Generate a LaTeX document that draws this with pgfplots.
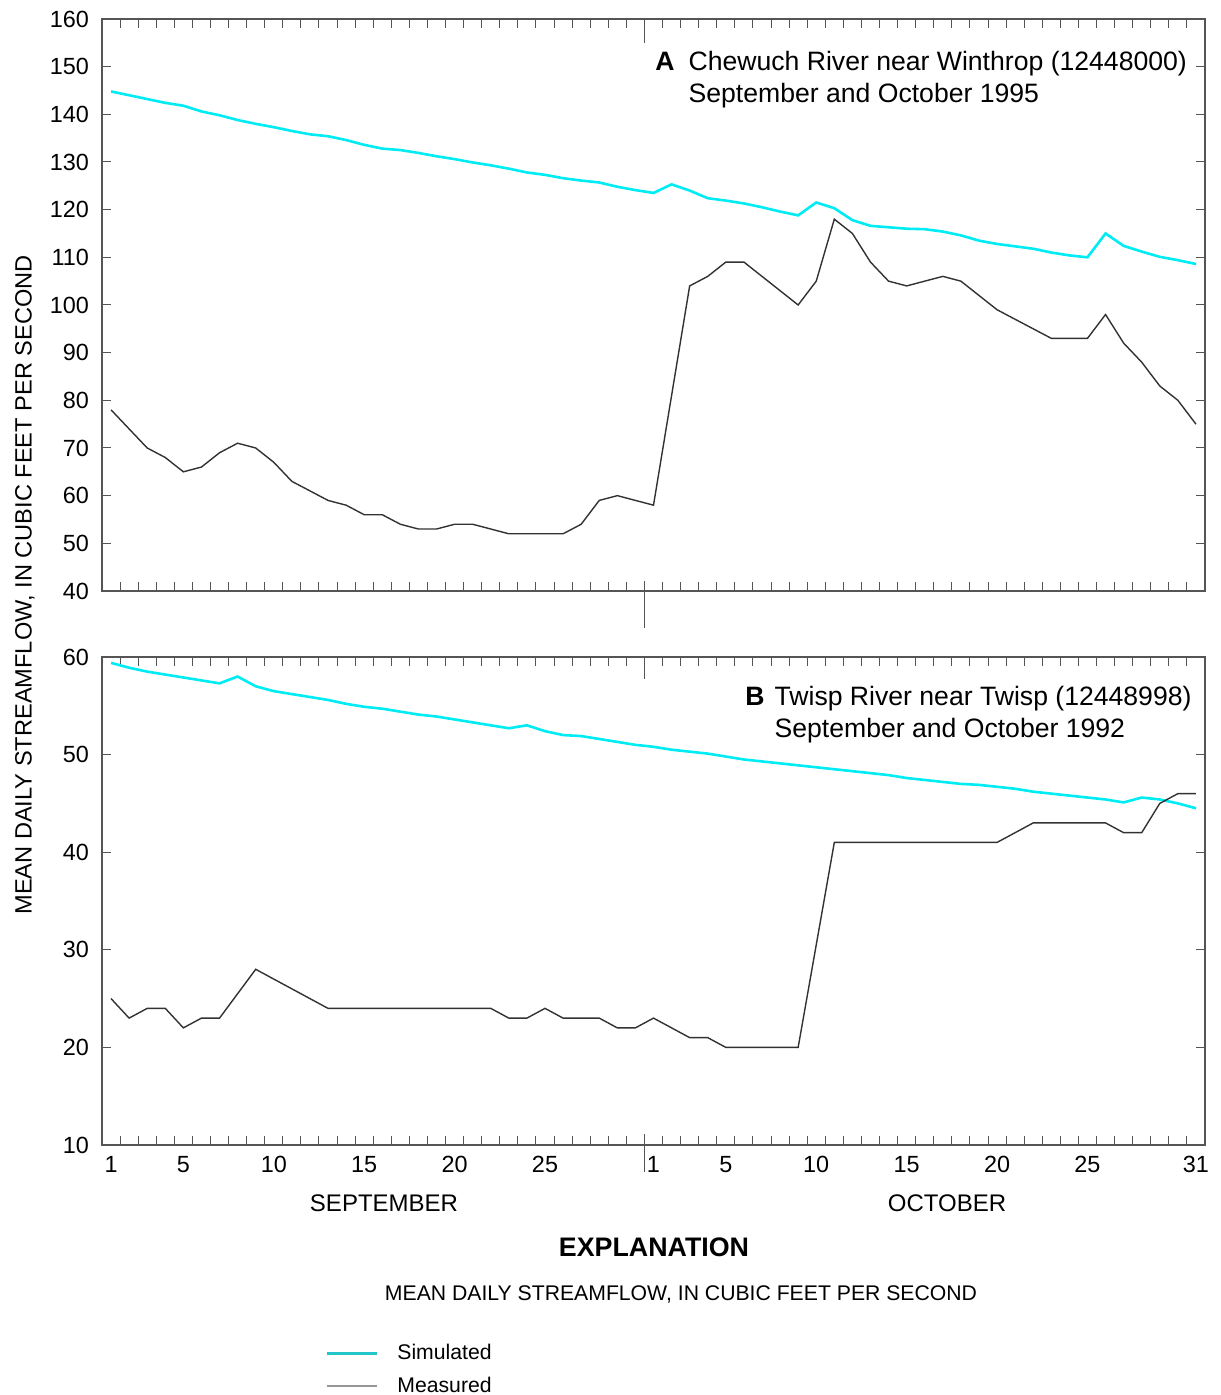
\documentclass[border=0pt]{standalone}
\usepackage{fontspec}
\setmainfont{Liberation Sans}
\usepackage{pgfplots}
\usepackage{pgfplotstable}
\pgfplotsset{compat=1.18}
\definecolor{simc}{RGB}{0,236,245}
\definecolor{meac}{RGB}{50,50,50}
\definecolor{axc}{RGB}{85,85,85}
\definecolor{legsim}{RGB}{34,197,200}
\definecolor{legmea}{RGB}{150,150,150}
\newcommand{\fs}[1]{\fontsize{#1}{#1}\selectfont}

\pgfplotstableread{
day simA meaA
1 144.8 78
2 144.0 74
3 143.2 70
4 142.4 68
5 141.8 65
6 140.6 66
7 139.8 69
8 138.8 71
9 138.0 70
10 137.3 67
11 136.5 63
12 135.8 61
13 135.4 59
14 134.6 58
15 133.6 56
16 132.8 56
17 132.5 54
18 131.9 53
19 131.2 53
20 130.6 54
21 129.9 54
22 129.3 53
23 128.6 52
24 127.8 52
25 127.3 52
26 126.6 52
27 126.1 54
28 125.7 59
29 124.8 60
30 124.1 59
31 123.5 58
32 125.3 81
33 124.0 104
34 122.4 106
35 121.9 109
36 121.3 109
37 120.5 106
38 119.6 103
39 118.8 100
40 121.5 105
41 120.3 118
42 117.8 115
43 116.6 109
44 116.3 105
45 116.0 104
46 115.9 105
47 115.4 106
48 114.6 105
49 113.5 102
50 112.8 99
51 112.3 97
52 111.8 95
53 111.0 93
54 110.4 93
55 110.0 93
56 115.0 98
57 112.4 92
58 111.2 88
59 110.1 83
60 109.4 80
61 108.6 75
}\tableA

\pgfplotstableread{
day simB meaB
1 59.4 25
2 58.9 23
3 58.5 24
4 58.2 24
5 57.9 22
6 57.6 23
7 57.3 23
8 58.0 25.5
9 57.0 28
10 56.5 27
11 56.2 26
12 55.9 25
13 55.6 24
14 55.2 24
15 54.9 24
16 54.7 24
17 54.4 24
18 54.1 24
19 53.9 24
20 53.6 24
21 53.3 24
22 53.0 24
23 52.7 23
24 53.0 23
25 52.4 24
26 52.0 23
27 51.9 23
28 51.6 23
29 51.3 22
30 51.0 22
31 50.8 23
32 50.5 22
33 50.3 21
34 50.1 21
35 49.8 20
36 49.5 20
37 49.3 20
38 49.1 20
39 48.9 20
40 48.7 30.5
41 48.5 41
42 48.3 41
43 48.1 41
44 47.9 41
45 47.6 41
46 47.4 41
47 47.2 41
48 47.0 41
49 46.9 41
50 46.7 41
51 46.5 42
52 46.2 43
53 46.0 43
54 45.8 43
55 45.6 43
56 45.4 43
57 45.1 42
58 45.6 42
59 45.4 45
60 45.0 46
61 44.5 46
}\tableB

\pgfplotsset{
  riverax/.style={
    scale only axis, width=551.5pt, xmin=0.5, xmax=61.5,
    axis line style={axc, line width=0.9pt},
    every tick/.style={axc, line width=0.5pt},
    tick align=inside, major tick length=4.6pt,
    xtick={1.5,2.5,...,60.5}, xticklabels={},
    xtick pos=both, ytick pos=both,
    yticklabel pos=left, xticklabel pos=lower,
    /pgf/number format/assume math mode=true,
    yticklabel style={font=\fs{11.7}, xshift=-3pt},
    xticklabel style={font=\fs{11.7}, yshift=-2pt},
    clip=false, anchor=south west,
  }
}

\begin{document}
\begin{tikzpicture}
\path[use as bounding box] (0pt,0pt) rectangle (610pt,697.5pt);

% Panel A
\begin{axis}[riverax, at={(51pt,402pt)}, height=286pt,
  ymin=40, ymax=160, ytick={40,50,...,160}]
  \addplot[simc, line width=1.3pt, forget plot] table[x=day,y=simA]{\tableA};
  \addplot[meac, line width=0.7pt, forget plot] table[x=day,y=meaA]{\tableA};
  \draw[axc, line width=0.5pt] (axis cs:30.5,160) -- ([yshift=-12pt]axis cs:30.5,160);
  \draw[axc, line width=0.5pt] ([yshift=-18.5pt]axis cs:30.5,40) -- ([yshift=5pt]axis cs:30.5,40);
\end{axis}

% Panel B
\begin{axis}[riverax, at={(51pt,125pt)}, height=244pt,
  ymin=10, ymax=60, ytick={10,20,...,60},
  extra x ticks={1,5,10,15,20,25,31,35,40,45,50,55,61},
  extra x tick labels={1,5,10,15,20,25,1,5,10,15,20,25,31},
  extra x tick style={major tick length=0pt, tick style={draw=none}},
  legend style={at={(0.202,-0.40)}, anchor=north west, draw=none, fill=none,
    font=\fs{10.6}, inner sep=0pt, row sep=3pt,
    cells={anchor=west}},
  legend image code/.code={\draw[#1] (0pt,0pt) -- (25pt,0pt); \path (32.5pt,0pt);},
  ]
  \addplot[simc, line width=1.3pt, forget plot] table[x=day,y=simB]{\tableB};
  \addplot[meac, line width=0.7pt, forget plot] table[x=day,y=meaB]{\tableB};
  \addlegendimage{legsim, line width=1.6pt}
  \addlegendentry{Simulated}
  \addlegendimage{legmea, line width=1pt}
  \addlegendentry{Measured}
  \draw[axc, line width=0.5pt] (axis cs:30.5,60) -- ([yshift=-11pt]axis cs:30.5,60);
  \draw[axc, line width=0.5pt] ([yshift=-13.5pt]axis cs:30.5,10) -- ([yshift=5.5pt]axis cs:30.5,10);
\end{axis}

% Titles
\node[anchor=base west, inner sep=0pt] at (327.5pt,662pt)
  {\fontsize{13.3}{16}\selectfont\textbf{A}\hspace{7pt}\begin{tabular}[t]{@{}l@{}}Chewuch River near Winthrop (12448000)\\September and October 1995\end{tabular}};
\node[anchor=base west, inner sep=0pt] at (372.5pt,344.5pt)
  {\fontsize{13.3}{16}\selectfont\textbf{B}\hspace{5pt}\begin{tabular}[t]{@{}l@{}}Twisp River near Twisp (12448998)\\September and October 1992\end{tabular}};

% Y label
\node[rotate=90, inner sep=0pt, font=\fs{11.8}] at (12.5pt,405pt)
  {MEAN DAILY STREAMFLOW, IN CUBIC FEET PER SECOND};

% Month labels
\node[inner sep=0pt, font=\fs{12}] at (192pt,96pt) {SEPTEMBER};
\node[inner sep=0pt, font=\fs{12}] at (473.5pt,96pt) {OCTOBER};

% Explanation
\node[inner sep=0pt, font=\bfseries\fs{13.4}] at (327pt,74pt) {EXPLANATION};
\node[inner sep=0pt, font=\fs{10.6}] at (340.5pt,50.5pt) {MEAN DAILY STREAMFLOW, IN CUBIC FEET PER SECOND};
\end{tikzpicture}
\end{document}
